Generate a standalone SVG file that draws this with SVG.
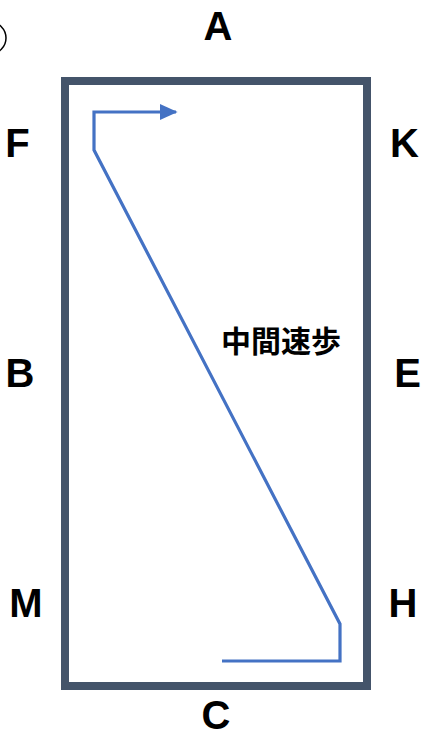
<svg xmlns="http://www.w3.org/2000/svg" width="423" height="737" viewBox="0 0 423 737">
<style>
.lbl{font-family:"Liberation Sans","DejaVu Sans",sans-serif;font-weight:bold;font-size:40px;fill:#000;text-anchor:middle}
.cjk{font-family:"Noto Sans CJK JP","Noto Sans CJK SC",sans-serif;font-weight:bold;font-size:30px;fill:#000;text-anchor:middle}
.path{fill:none;stroke:#4472C4;stroke-width:3.2}
</style>
<defs>
<marker id="arr" markerWidth="5.5" markerHeight="5" refX="5" refY="2.5" orient="auto" markerUnits="strokeWidth">
<path d="M0,0 L5.5,2.5 L0,5 Z" fill="#4472C4"/>
</marker>
</defs>
<rect width="423" height="737" fill="#fff"/>
<g id="mark"><circle cx="-10" cy="38" r="16" fill="none" stroke="#000" stroke-width="1.5"/></g>
<g id="arena"><rect x="65" y="81" width="302" height="605" fill="none" stroke="#44546A" stroke-width="8"/></g>
<g id="connectors">
<path class="path" d="M222,661 H340 V624 L94,150 V112 H176" marker-end="url(#arr)"/>
</g>
<g id="A"><text class="lbl" x="218" y="40">A</text></g>
<g id="F"><text class="lbl" x="17.5" y="157">F</text></g>
<g id="K"><text class="lbl" x="404.5" y="157">K</text></g>
<g id="B"><text class="lbl" x="20" y="387">B</text></g>
<g id="E"><text class="lbl" x="407.5" y="387">E</text></g>
<g id="M"><text class="lbl" x="26" y="617">M</text></g>
<g id="H"><text class="lbl" x="403" y="617">H</text></g>
<g id="C"><text class="lbl" x="216" y="729">C</text></g>
<g id="label"><text class="cjk" x="281" y="352">中間速歩</text></g>
</svg>
